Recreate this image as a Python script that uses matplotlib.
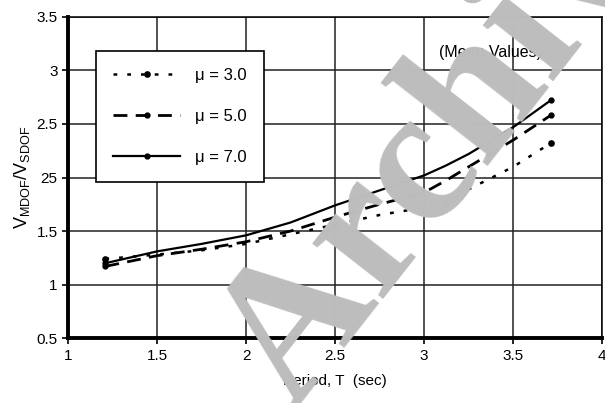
import numpy as np
import matplotlib
matplotlib.use('Agg')
import matplotlib.pyplot as plt

plt.rcParams['font.family'] = ['Liberation Sans', 'DejaVu Sans']

# period values (sec) and mean V_MDOF/V_SDOF ratios
period = [1.21, 1.5, 1.75, 2.0, 2.25, 2.5, 2.75, 3.0, 3.12, 3.25, 3.5, 3.71]
mu_3 = [1.24, 1.28, 1.32, 1.38, 1.47, 1.56, 1.65, 1.72, 1.76, 1.89, 2.10, 2.32]
mu_5 = [1.17, 1.27, 1.33, 1.40, 1.50, 1.63, 1.75, 1.86, 1.97, 2.10, 2.35, 2.58]
mu_7 = [1.20, 1.31, 1.38, 1.46, 1.58, 1.74, 1.88, 2.02, 2.11, 2.22, 2.47, 2.72]

x_ticks = [1, 1.5, 2, 2.5, 3, 3.5, 4]
x_labels = ['1', '1.5', '2', '2.5', '3', '3.5', '4']
y_ticks = [0.5, 1, 1.5, 2, 2.5, 3, 3.5]
y_labels = ['0.5', '1', '1.5', '25', '2.5', '3', '3.5']


def main():
    fig = plt.figure(figsize=(6.05, 4.03), dpi=100)
    ax = fig.add_axes([0.1124, 0.161, 0.883, 0.797])

    ends = [0, len(period) - 1]
    ax.plot(period, mu_3, color='black', lw=1.8, ls=(0, (1.5, 4)),
            marker='o', ms=3.8, markevery=[0, 5, 8, 11], label='\u03bc = 3.0',
            zorder=3)
    ax.plot(period, mu_5, color='black', lw=2.0, ls=(0, (5, 3)),
            marker='o', ms=3.5, markevery=ends, label='\u03bc = 5.0', zorder=3)
    ax.plot(period, mu_7, color='black', lw=1.6, ls='-',
            marker='o', ms=3.5, markevery=ends, label='\u03bc = 7.0', zorder=3)

    ax.set_xlim(1, 4)
    ax.set_ylim(0.5, 3.5)
    ax.set_xticks(x_ticks)
    ax.set_xticklabels(x_labels)
    ax.set_yticks(y_ticks)
    ax.set_yticklabels(y_labels)
    ax.tick_params(direction='out', length=4, width=1.2, labelsize=11,
                   colors='black')
    ax.grid(True, color='#222222', lw=1.1)
    ax.set_axisbelow(True)

    for side in ['top', 'right']:
        ax.spines[side].set_linewidth(1.1)
    for side in ['left', 'bottom']:
        ax.spines[side].set_linewidth(2.8)

    ax.set_xlabel('Period, T  (sec)', fontsize=11, labelpad=8)
    ax.set_ylabel('V$_{\\mathregular{MDOF}}$/V$_{\\mathregular{SDOF}}$',
                  fontsize=13, labelpad=3)

    ax.text(3.37, 3.17, '(Mean Values)', fontsize=11.5, ha='center', va='center')

    leg = ax.legend(loc='upper left', bbox_to_anchor=(0.052, 0.895),
                    fontsize=12, frameon=True, fancybox=False,
                    handlelength=4.0, labelspacing=1.55, borderpad=1.05,
                    handletextpad=0.9, borderaxespad=0)
    leg.get_frame().set_edgecolor('black')
    leg.get_frame().set_linewidth(1.2)
    leg.get_frame().set_alpha(1)

    # grey watermark across the plot, cut off at the top as in the scan
    fig.text(0.758, 0.69, 'Archive', fontsize=140, family='Liberation Serif',
             weight='bold', color='#bdbdbd', rotation=52, ha='center',
             va='center', zorder=10)

    fig.savefig('out.png', dpi=100)


if __name__ == '__main__':
    main()
